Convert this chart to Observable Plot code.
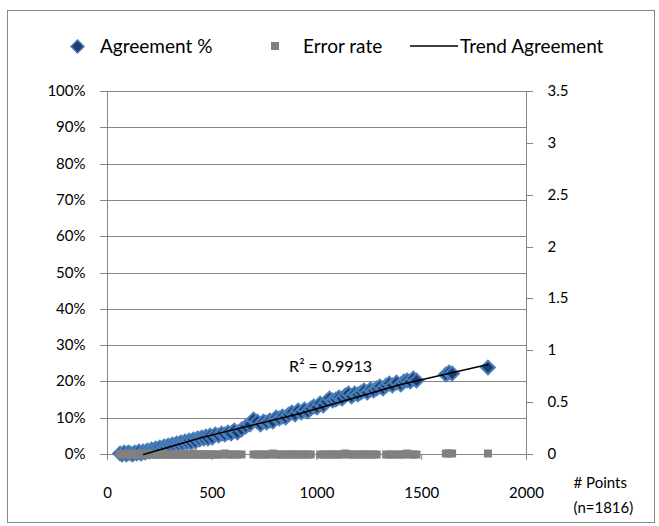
<!DOCTYPE html>
<html><head><meta charset="utf-8">
<script src="https://cdn.jsdelivr.net/npm/d3@7"></script>
<script src="https://cdn.jsdelivr.net/npm/@observablehq/plot@0.6"></script>
<style>
body{margin:0;background:#fff;font-family:Lato,"Open Sans",sans-serif;}
#chart{position:absolute;left:7px;top:10px;width:646px;height:511px;border:1px solid #868686;background:#fff;}
#legend{position:relative;height:59px;font-size:19px;color:#000;}
#legend .it{position:absolute;top:23px;line-height:24px;white-space:nowrap;}
#legend svg{position:absolute;}
</style></head>
<body>
<div id="chart"><div id="legend"></div><div id="plot"></div></div>
<script>
// # Points (x)
const points = [60,70,80,90,100,110,120,130,140,150,160,170,180,190,200,210,220,230,240,250,260,270,280,290,300,310,320,330,340,350,360,370,380,390,400,410,420,430,440,450,460,470,480,490,500,515,530,545,560,575,590,605,620,640,660,680,697,715,730,745,760,775,790,805,820,835,850,865,880,895,910,925,940,955,970,985,1000,1015,1030,1045,1060,1075,1090,1105,1120,1135,1150,1165,1180,1195,1210,1225,1240,1255,1270,1285,1300,1315,1330,1345,1360,1380,1400,1415,1430,1445,1460,1475,1615,1630,1645,1816];
// Agreement % (left axis, in percent)
const agreementPct = [0.3,0.0,0.5,0.1,0.6,0.2,0.0,0.5,0.2,0.7,0.3,0.8,0.5,1.1,0.8,1.4,1.0,1.7,1.3,1.9,1.5,2.2,1.8,2.5,2.1,2.8,2.4,3.0,2.7,3.3,2.9,3.6,3.2,3.8,3.4,4.1,3.7,4.4,4.0,4.7,4.3,4.9,4.5,5.2,4.8,5.4,5.1,5.8,5.5,6.1,5.8,6.5,6.1,7.0,7.6,8.4,9.7,9.0,8.3,9.0,8.7,9.5,9.1,10.1,9.8,10.5,10.2,10.9,11.6,11.1,12.1,11.6,12.5,11.9,12.7,13.3,12.9,14.0,13.5,14.5,15.3,14.8,15.2,15.8,15.4,16.2,16.7,16.1,16.8,16.4,17.1,17.6,17.2,17.9,17.5,18.2,18.7,18.3,19.0,19.5,19.1,19.7,19.4,20.0,20.5,20.2,20.8,20.4,22.0,22.6,22.3,24.1];
// Error rate (right axis)
const errorRate = [0,0,0.005,0,0,0.005,0,0,0,0.005,0,0,0,0,0.005,0,0,0,0,0,0.005,0,0,0,0,0,0,0.005,0,0,0,0,0,0,0,0.005,0,0,0,0,0,0,0,0,0,0,0,0,0.005,0,0,0,0,0,null,null,0,0,0,0,0,0,0.005,0,0,0,0,0,0,0,0,0,0,0,0,null,null,0,0,0,0,0,0,0,0,0.005,0,0,0,0,0,0,0,0,0,0,null,null,0,0,0,0,0,0,0.005,0,0,0,0.01,0.01,0.01,0.01];
// Trend Agreement
const trendPoints = [172,450,920,1400,1816];
const trendPct = [0,4.6,11.2,19.2,24.8];
// Axis ticks
const leftTicks = [0,0.1,0.2,0.3,0.4,0.5,0.6,0.7,0.8,0.9,1];
const rightTicks = [0,0.5,1,1.5,2,2.5,3,3.5];
const xTicks = [0,500,1000,1500,2000];
const xMin = 0, xMax = 2000, rightMax = 3.5;
const annotation = [{x:1065, y:0.242, text:"R² = 0.9913"}];
const axisTitle = ["# Points\n(n=1816)"];
const legendItems = [
  {name:"Agreement %", kind:"diamond", sx:62, tx:92},
  {name:"Error rate", kind:"square", sx:263, tx:295},
  {name:"Trend Agreement", kind:"line", sx:402, tx:452}
];

const data = points.map((x,i)=>({x, a: agreementPct[i]/100, e: errorRate[i]}));
const trend = trendPoints.map((x,i)=>({x, y: trendPct[i]/100}));
const grid = leftTicks.map(v => ({v}));

// legend
const leg = document.getElementById("legend");
for (const it of legendItems) {
  let sym;
  if (it.kind==="diamond") sym = `<svg width="15" height="15" style="left:${it.sx}px;top:28px"><path d="M7.5 1L14 7.5L7.5 14L1 7.5Z" fill="#1c3f6e" stroke="#4a7ebb" stroke-width="1.5"/></svg>`;
  else if (it.kind==="square") sym = `<svg width="8" height="8" style="left:${it.sx}px;top:31px"><rect width="8" height="8" fill="#808080"/></svg>`;
  else sym = `<svg width="48" height="4" style="left:${it.sx}px;top:33px"><line x1="0" x2="48" y1="2" y2="2" stroke="#000" stroke-width="1.5"/></svg>`;
  leg.insertAdjacentHTML("beforeend", sym + `<span class="it" style="left:${it.tx}px">${it.name}</span>`);
}

const chart = Plot.plot({
  width: 646, height: 450,
  marginLeft: 99, marginRight: 128, marginTop: 21, marginBottom: 66,
  style: {fontFamily: "Lato, 'Open Sans', sans-serif", fontSize: "15px", color: "#000", background: "transparent", overflow: "visible"},
  x: {domain: [xMin, xMax]},
  y: {domain: [0, 1], round: true},
  marks: [
    Plot.ruleY(grid, {y: "v", x1: xMin, x2: xMax, stroke: "#868686", strokeWidth: 1}),
    Plot.ruleX([xMin, xMax], {stroke: "#868686"}),
    Plot.axisY(leftTicks, {anchor: "left", tickFormat: d3.format(".0%"), tickSize: 7, tickPadding: 15, stroke: "#868686", label: null}),
    Plot.axisY(rightTicks.map(v => v/rightMax), {anchor: "right", tickFormat: d => String(Math.round(d*rightMax*10)/10), tickSize: 6, tickPadding: 15, stroke: "#868686", label: null}),
    Plot.axisX(xTicks, {anchor: "bottom", tickFormat: d => String(d), tickSize: 6, tickPadding: 27, stroke: "#868686", label: null}),
    Plot.dot(data, {x: "x", y: "a", symbol: "diamond2", r: 6.2, fill: "#1c3f6e", stroke: "#4a7ebb", strokeWidth: 2}),
    Plot.dot(data.filter(d => d.e != null), {x: "x", y: d => d.e/rightMax, symbol: "square", r: 4.5, fill: "#808080"}),
    Plot.line(trend, {x: "x", y: "y", stroke: "#000", strokeWidth: 1.5}),
    Plot.text(annotation, {x: "x", y: "y", text: "text", fontSize: 16}),
    Plot.text(axisTitle, {text: d => d, frameAnchor: "bottom-right", textAnchor: "start", lineAnchor: "top", dx: 47, dy: 16, lineHeight: 1.65})
  ]
});
document.getElementById("plot").appendChild(chart);
</script>
</body></html>
